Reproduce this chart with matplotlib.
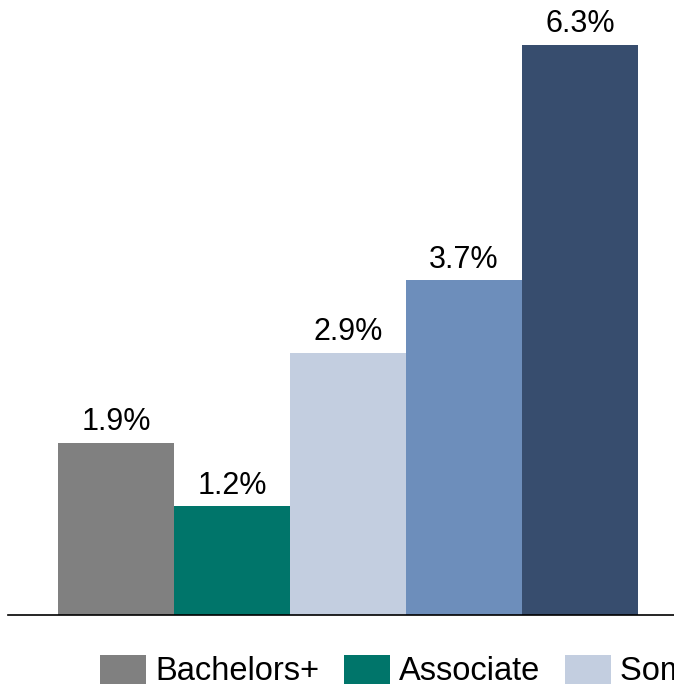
import matplotlib.pyplot as plt

plt.rcParams['font.family'] = ['Liberation Sans', 'DejaVu Sans']

# education levels and their rates
categories = ['Bachelors+', 'Associate', 'Some college', 'HS diploma', 'Less than HS']
values = [1.9, 1.2, 2.9, 3.7, 6.3]
colors = ['#808080', '#00756A', '#C3CEE0', '#6D8EBB', '#374D6E']

W, H = 674, 694
fig = plt.figure(figsize=(W / 100, H / 100), dpi=100)
ax = fig.add_axes([8 / W, (H - 615) / H, 1 - 8 / W, 615 / H])

bars = ax.bar(range(len(values)), values, width=1.0, color=colors, label=categories)

for b, v in zip(bars, values):
    ax.annotate(f'{v}%', (b.get_x() + b.get_width() / 2, b.get_height()),
                xytext=(0, 4), textcoords='offset points',
                ha='center', va='bottom', fontsize=22)

ax.set_xlim(-0.5 - 50 / 116, -0.5 - 50 / 116 + 666 / 116)
ax.set_ylim(0, 615 / 90.5)
for s in ['top', 'right', 'left']:
    ax.spines[s].set_visible(False)
ax.spines['bottom'].set_linewidth(1.2)
ax.set_xticks([])
ax.set_yticks([])

# legend runs off the right edge, as in the original
fig.legend(handles=list(bars), labels=categories, loc='center left',
           bbox_to_anchor=(100 / W, 1 - 671 / H), ncol=5, frameon=False,
           fontsize=23.5, handlelength=1.41, handleheight=1.0,
           handletextpad=0.28, columnspacing=0.75, borderpad=0, borderaxespad=0)

fig.savefig('out.png', dpi=100)
